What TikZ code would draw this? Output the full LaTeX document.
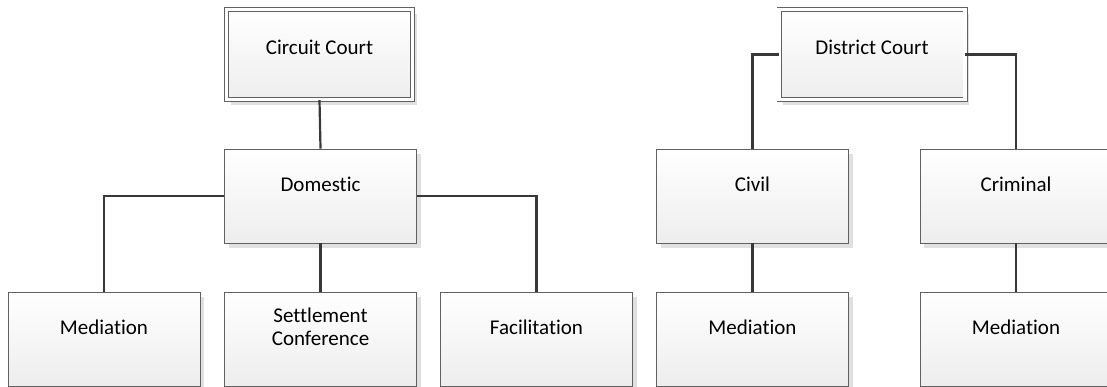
\documentclass[tikz,border=0pt]{standalone}
\usepackage{fontspec}
\setmainfont[Ligatures={NoCommon,NoDiscretionary,NoContextual},RawFeature={-liga;-dlig;-clig}]{Carlito}
\usetikzlibrary{shadows}
\tikzset{
  box/.style={draw=black!62, line width=0.9pt, top color=white, bottom color=black!7,
    minimum width=192pt, minimum height=94pt, inner sep=0pt,
    drop shadow={shadow xshift=4pt, shadow yshift=-5pt, fill=black!12, opacity=1}},
  court/.style={box, double=white, double distance=3.4pt, line width=0.8pt,
    minimum width=186pt, minimum height=90.5pt},
  lbl/.style={font=\fontsize{21}{23.5}\selectfont, text=black, align=center, inner sep=0pt},
  conn/.style={draw=black!78, line width=2.2pt}
}
\begin{document}
\begin{tikzpicture}[x=1pt,y=-1pt]
\useasboundingbox (0,0) rectangle (1107,387);
\clip (0,0) rectangle (1107,387);
% courts
\node[court] (cc) at (319.5,54.5) {};
\node[court] (dc) at (872,54.5) {};
% second row
\node[box] (dom) at (320.5,196) {};
\node[box] (civ) at (752.5,196) {};
\node[box] (cri) at (1016,196) {};
% third row
\node[box] (med1) at (104,339) {};
\node[box] (set) at (320.5,339) {};
\node[box] (fac) at (536.5,339) {};
\node[box] (med2) at (752.5,339) {};
\node[box] (med3) at (1016,339) {};
% labels
\node[lbl] (tcc) at ([yshift=-38.5pt]cc.north) {Circuit Court};
\node[lbl] (tdc) at ([yshift=-38.5pt]dc.north) {District Court};
\node[lbl] (tdom) at ([yshift=-36pt]dom.north) {Domestic};
\node[lbl] (tciv) at ([yshift=-36pt]civ.north) {Civil};
\node[lbl] (tcri) at ([yshift=-36pt]cri.north) {Criminal};
\node[lbl] (tmed1) at ([yshift=-36pt]med1.north) {Mediation};
\node[lbl] (tset) at ([yshift=-35pt]set.north) {Settlement\\Conference};
\node[lbl] (tfac) at ([yshift=-36pt]fac.north) {Facilitation};
\node[lbl] (tmed2) at ([yshift=-36pt]med2.north) {Mediation};
\node[lbl] (tmed3) at ([yshift=-36pt]med3.north) {Mediation};
% connectors
\draw[conn] (cc.south) -- (dom.north);
\draw[conn] (dom.west) -| (med1.north);
\draw[conn] (dom.south) -- (set.north);
\draw[conn] (dom.east) -| (fac.north);
\draw[conn] (dc.west) -| (civ.north);
\draw[conn] (dc.east) -| (cri.north);
\draw[conn] (civ.south) -- (med2.north);
\draw[conn] (cri.south) -- (med3.north);
\end{tikzpicture}
\end{document}
